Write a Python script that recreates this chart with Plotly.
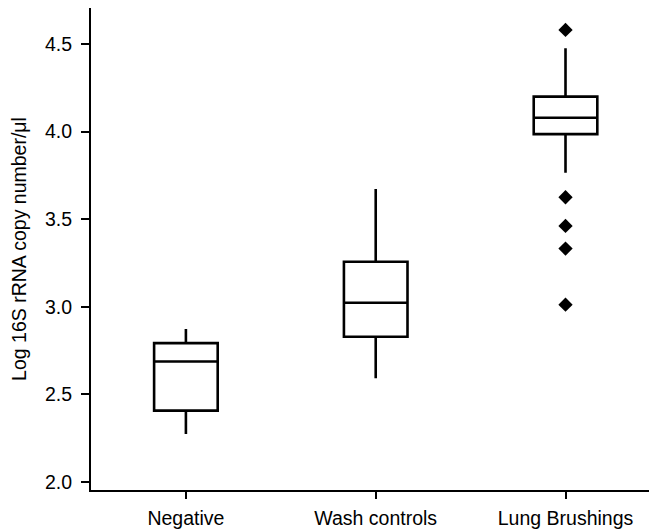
import plotly.graph_objects as go

categories = ["Negative", "Wash controls", "Lung Brushings"]
lower_whisker = [2.274, 2.592, 3.765]
q1_vals = [2.407, 2.829, 3.985]
median_vals = [2.687, 3.023, 4.079]
q3_vals = [2.792, 3.257, 4.199]
upper_whisker = [2.873, 3.672, 4.475]
outlier_cats = ["Lung Brushings"] * 5
outlier_vals = [4.580, 3.625, 3.461, 3.332, 3.012]
y_ticks = [2.0, 2.5, 3.0, 3.5, 4.0, 4.5]

font_family = "Liberation Sans, Arial, sans-serif"

fig = go.Figure()
fig.add_trace(go.Box(
    x=categories,
    q1=q1_vals, median=median_vals, q3=q3_vals,
    lowerfence=lower_whisker, upperfence=upper_whisker,
    width=0.335, whiskerwidth=0,
    fillcolor="white",
    line=dict(color="black", width=2.6),
    boxpoints=False,
    showlegend=False,
))
fig.add_trace(go.Scatter(
    x=outlier_cats, y=outlier_vals, mode="markers",
    marker=dict(symbol="diamond", size=11, color="black"),
    showlegend=False,
))

# page body has an 8px margin, so the figure is sized to fit the window
fig.update_layout(
    width=649, height=521,
    margin=dict(l=83, r=0, t=0, b=39),
    paper_bgcolor="white", plot_bgcolor="white",
    font=dict(family=font_family, size=19.5, color="black"),
    xaxis=dict(
        type="category", categoryorder="array", categoryarray=categories,
        range=[-0.5, 2.482],
        showline=True, linecolor="black", linewidth=2,
        ticks="outside", ticklen=7, tickwidth=2, tickcolor="black",
        showgrid=False, zeroline=False,
        tickfont=dict(size=19.5),
        ticklabelstandoff=3,
    ),
    yaxis=dict(
        range=[1.954, 4.705],
        tickvals=y_ticks, ticktext=[f"{v:.1f}" for v in y_ticks],
        showline=True, linecolor="black", linewidth=2,
        ticks="outside", ticklen=8, tickwidth=2, tickcolor="black",
        showgrid=False, zeroline=False,
        tickfont=dict(size=19.5),
        ticklabelstandoff=5,
        title=dict(text="Log 16S rRNA copy number/μl", font=dict(size=19.5), standoff=14),
    ),
)

fig.write_html("out.html")
